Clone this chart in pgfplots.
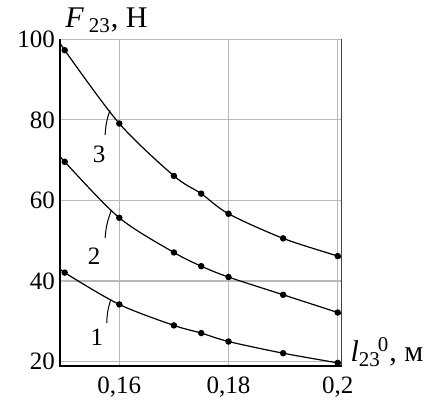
\documentclass[border=0pt]{standalone}
\usepackage{fontspec}
\setmainfont{Liberation Serif}
\usepackage{pgfplots}
\pgfplotsset{compat=1.18}
\begin{document}
\begin{tikzpicture}[font=\fontsize{12.5}{15}\selectfont]
\path[use as bounding box] (-30pt,-17.65pt) rectangle (186.5pt,182.85pt);
\begin{axis}[
  at={(0,0)}, anchor=south west,
  scale only axis, width=140.85pt, height=163.2pt,
  xmin=0.14914, xmax=0.20073, ymin=19, ymax=100,
  xtick={0.16,0.18,0.2}, xticklabels={{0,16},{0,18},{0,2}},
  ytick={20,40,60,80,100}, yticklabels={20,40,60,80,100},
  major tick length=0pt,
  grid=major, grid style={gray!55, line width=0.6pt},
  axis line style={draw=none},
  tick label style={font=\fontsize{12.5}{15}\selectfont},
  x tick label style={yshift=-2pt},
  y tick label style={xshift=1pt},
  clip mode=individual,
  every axis plot/.append style={black, line width=0.6pt},
]
% curve 3
\addplot[smooth, no marks] coordinates {
  (0.14914,99.6) (0.15,97.3) (0.16,79.1) (0.17,66.1) (0.175,61.7)
  (0.18,56.7) (0.19,50.6) (0.2,46.2) (0.20073,45.8) };
\addplot[only marks, mark=*, mark size=1.3pt] coordinates {
  (0.15,97.3) (0.16,79.1) (0.17,66.1) (0.175,61.7)
  (0.18,56.7) (0.19,50.6) (0.2,46.2) };
% curve 2
\addplot[smooth, no marks] coordinates {
  (0.14914,71.3) (0.15,69.6) (0.16,55.7) (0.17,47.1) (0.175,43.7)
  (0.18,41.0) (0.19,36.6) (0.2,32.2) (0.20073,31.8) };
\addplot[only marks, mark=*, mark size=1.3pt] coordinates {
  (0.15,69.6) (0.16,55.7) (0.17,47.1) (0.175,43.7)
  (0.18,41.0) (0.19,36.6) (0.2,32.2) };
% curve 1
\addplot[smooth, no marks] coordinates {
  (0.14914,43.5) (0.15,42.1) (0.16,34.2) (0.17,29.0) (0.175,27.1)
  (0.18,25.0) (0.19,22.1) (0.2,19.7) (0.20073,19.5) };
\addplot[only marks, mark=*, mark size=1.3pt] coordinates {
  (0.15,42.1) (0.16,34.2) (0.17,29.0) (0.175,27.1)
  (0.18,25.0) (0.19,22.1) (0.2,19.7) };

% frame
\draw[gray!55, line width=0.6pt] (rel axis cs:0,1) -- (rel axis cs:1,1);
\draw[black!75, line width=0.6pt] (rel axis cs:1,0) -- (rel axis cs:1,1);
\draw[black, line width=0.9pt] (rel axis cs:0,1) -- (rel axis cs:0,0) -- (rel axis cs:1,0);

% curve numbers
\draw[line width=0.5pt] (axis cs:0.1574,76.2) to[bend left=8] (axis cs:0.1583,82.4);
\node at (axis cs:0.1563,71.5) {3};
\draw[line width=0.5pt] (axis cs:0.1574,50.7) to[bend left=8] (axis cs:0.1585,57.4);
\node at (axis cs:0.1554,46.2) {2};
\draw[line width=0.5pt] (axis cs:0.1577,29.6) to[bend left=8] (axis cs:0.1584,35.2);
\node at (axis cs:0.1559,26.1) {1};

% axis titles
\node[anchor=base west, inner sep=0pt, font=\fontsize{15}{18}\selectfont]
  at ([xshift=2.5pt,yshift=5.7pt]rel axis cs:0,1)
  {\textit{F}\,\textsubscript{23}, Н};
\node[anchor=base west, inner sep=0pt, font=\fontsize{15}{18}\selectfont]
  at ([xshift=4.2pt,yshift=2pt]rel axis cs:1,0)
  {\textit{l}\textsubscript{23}\kern-0.1em\textsuperscript{0}, м};
\end{axis}
\end{tikzpicture}
\end{document}
